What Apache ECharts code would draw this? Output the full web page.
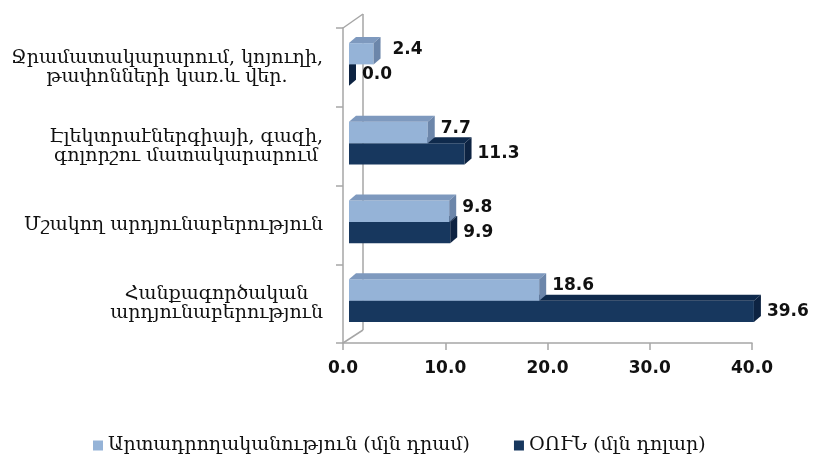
<!DOCTYPE html>
<html>
<head>
<meta charset="utf-8">
<script src="https://cdn.jsdelivr.net/npm/echarts@6/dist/echarts.min.js"></script>
<style>html,body{margin:0;padding:0;background:#fff;}#main{width:830px;height:456px;}</style>
</head>
<body>
<div id="main"></div>
<script>
const categories = [
  'Ջրամատակարարում, կոյուղի,\nթափոնների կառ.և վեր.',
  'Էլեկտրաէներգիայի, գազի,\nգոլորշու մատակարարում',
  'Մշակող արդյունաբերություն',
  'Հանքագործական\nարդյունաբերություն'
];
const seriesNames = ['Արտադրողականություն (մլն դրամ)', 'ՕՈՒՆ (մլն դոլար)'];
const productivity = [2.4, 7.7, 9.8, 18.6];
const fdi = [0.0, 11.3, 9.9, 39.6];
const xMin = 0, xMax = 40, xInterval = 10;

const ARM = '"DejaVu Serif", "DejaVu Sans", serif';
const NUM = '"DejaVu Sans", Verdana, sans-serif';
const palette = [
  { front: '#95B3D7', top: '#7E99BE', side: '#6C86AA' },
  { front: '#17375E', top: '#0F2A4C', side: '#0D2342' }
];
const G = { left: 343, right: 78, top: 28, bottom: 113 };
const D = { dx: 7, dy: 6, shiftX: 6, shiftY: -3 };

function render(sIdx) {
  return function (params, api) {
    const v = api.value(0), ci = api.value(1);
    const p0 = api.coord([0, ci]);
    const p1 = api.coord([v, ci]);
    const band = api.size([0, 1])[1];
    const h = band * 0.27;
    const cy = p0[1] + D.shiftY;
    const yTop = sIdx === 0 ? cy - h : cy;
    const yBot = yTop + h;
    const x0 = p0[0] + D.shiftX, x1 = p1[0] + D.shiftX;
    const c = palette[sIdx];
    const labelY = sIdx === 0 ? (yTop + yBot) / 2 - 4 : (yTop + yBot) / 2;
    const gap = (sIdx === 0 && v < 5) ? 12 : 6;
    return {
      type: 'group',
      children: [
        { type: 'rect', shape: { x: x0, y: yTop, width: x1 - x0, height: h }, style: { fill: c.front } },
        { type: 'polygon', shape: { points: [[x0, yTop], [x0 + D.dx, yTop - D.dy], [x1 + D.dx, yTop - D.dy], [x1, yTop]] }, style: { fill: c.top } },
        { type: 'polygon', shape: { points: [[x1, yTop], [x1 + D.dx, yTop - D.dy], [x1 + D.dx, yBot - D.dy], [x1, yBot]] }, style: { fill: c.side } },
        { type: 'text', style: { text: v.toFixed(1), x: x1 + D.dx + gap, y: labelY, verticalAlign: 'middle', align: 'left', fill: '#111', font: 'bold 17px ' + NUM } }
      ]
    };
  };
}

const chart = echarts.init(document.getElementById('main'), null, { renderer: 'canvas' });
const axisColor = '#a6a6a6';
const option = {
  backgroundColor: '#ffffff',
  animation: false,
  grid: { left: G.left, right: G.right, top: G.top, bottom: G.bottom, containLabel: false },
  legend: {
    left: 88, top: 431,
    icon: 'rect', itemWidth: 10, itemHeight: 10, itemGap: 44,
    textStyle: { fontFamily: ARM, fontSize: 19, color: '#111' },
    data: seriesNames
  },
  xAxis: {
    type: 'value', min: xMin, max: xMax, interval: xInterval,
    axisLine: { show: true, lineStyle: { color: axisColor, width: 1.5 } },
    axisTick: { show: true, length: 7, inside: false, lineStyle: { color: axisColor, width: 1.5 } },
    splitLine: { show: false },
    axisLabel: { margin: 17, formatter: v => v.toFixed(1), fontFamily: NUM, fontWeight: 'bold', fontSize: 17, color: '#111' }
  },
  yAxis: {
    type: 'category', data: categories, inverse: true,
    axisLine: { show: true, lineStyle: { color: axisColor, width: 1.5 } },
    axisTick: { show: true, length: 7, lineStyle: { color: axisColor, width: 1.5 } },
    axisLabel: {
      margin: 20,
      formatter: v => v.split('\n').map(l => '{c|' + l + '}').join('\n'),
      rich: { c: { align: 'center', fontFamily: ARM, fontSize: 19, lineHeight: 19, color: '#111' } }
    }
  },
  series: [
    { name: seriesNames[0], type: 'custom', renderItem: render(0), itemStyle: { color: palette[0].front },
      encode: { x: 0, y: 1 }, data: productivity.map((v, i) => [v, i]), z: 3 },
    { name: seriesNames[1], type: 'custom', renderItem: render(1), itemStyle: { color: palette[1].front },
      encode: { x: 0, y: 1 }, data: fdi.map((v, i) => [v, i]), z: 2 }
  ]
};
chart.setOption(option);

// 3D back-wall frame decoration, derived from the grid layout
const H = 456;
const gx = G.left, gt = G.top, gb = H - G.bottom;
const wdx = 20, wdy = -14;
chart.setOption({
  graphic: [
    { type: 'line', silent: true, z: 0, shape: { x1: gx, y1: gt, x2: gx + wdx, y2: gt + wdy }, style: { stroke: axisColor, lineWidth: 1.5 } },
    { type: 'line', silent: true, z: 0, shape: { x1: gx, y1: gb, x2: gx + wdx, y2: gb + wdy + 1 }, style: { stroke: axisColor, lineWidth: 1.5 } },
    { type: 'line', silent: true, z: 0, shape: { x1: gx + wdx, y1: gt + wdy, x2: gx + wdx, y2: gb + wdy + 1 }, style: { stroke: axisColor, lineWidth: 1.5 } }
  ]
});
</script>
</body>
</html>
